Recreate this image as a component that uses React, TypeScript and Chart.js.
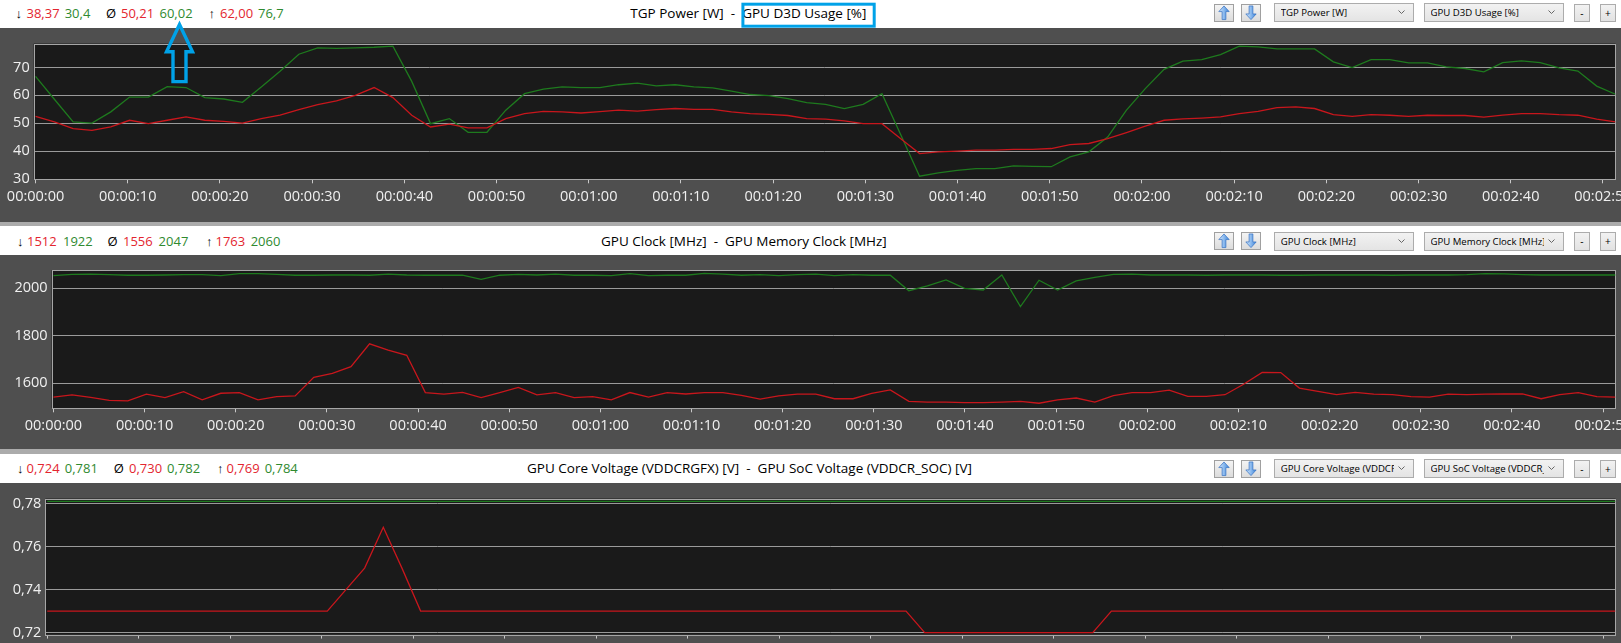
import React, { useEffect, useRef } from 'react';
import { Chart, registerables } from 'chart.js';

Chart.register(...registerables);

// ---------------- data ----------------
const SAMPLE_INTERVAL_S = 2.04;
const X_MIN = -0.2;
const X_MAX = 171.36;
const xTickSeconds = [0, 10, 20, 30, 40, 50, 60, 70, 80, 90, 100, 110, 120, 130, 140, 150, 160, 170];

const tgpPower = [
  52.5, 50.5, 48.1, 47.5, 48.7, 51.1, 49.9, 51.1, 52.3, 51.1,
  50.7, 50.1, 51.7, 52.9, 54.9, 56.7, 58.0, 60.0, 62.8, 59.2,
  52.9, 48.7, 49.7, 48.4, 48.4, 51.7, 53.5, 54.3, 54.1, 53.7,
  54.2, 54.7, 54.4, 54.9, 55.3, 55.0, 55.0, 54.1, 53.5, 53.2,
  52.8, 51.7, 51.5, 50.9, 49.9, 49.9, 44.5, 39.2, 39.8, 40.1,
  40.4, 40.4, 40.7, 40.7, 41.0, 42.4, 42.8, 44.5, 46.7, 49.0,
  51.1, 51.6, 51.9, 52.3, 53.5, 54.3, 55.6, 55.9, 55.3, 53.1,
  52.5, 53.1, 52.9, 52.5, 52.9, 52.8, 52.8, 52.2, 52.9, 53.5,
  53.5, 53.1, 52.9, 51.5, 50.5,
];
const d3dUsage = [
  66.8, 58.6, 50.5, 50.1, 54.1, 59.4, 59.4, 63.1, 62.8, 59.2,
  58.7, 57.5, 63.0, 68.6, 74.7, 77.0, 76.8, 77.0, 77.2, 77.6,
  65.0, 49.9, 51.7, 46.8, 46.8, 54.7, 60.6, 62.2, 63.0, 62.8,
  62.8, 63.8, 64.4, 63.4, 63.8, 63.0, 62.7, 61.5, 60.3, 59.9,
  58.8, 57.4, 56.8, 55.3, 56.8, 60.6, 45.9, 31.1, 32.3, 33.2,
  33.8, 33.8, 34.8, 34.6, 34.5, 38.0, 39.8, 45.1, 54.7, 62.4,
  69.3, 72.2, 72.8, 74.6, 77.6, 77.3, 76.6, 76.6, 76.6, 72.0,
  69.9, 72.8, 72.8, 71.6, 71.6, 70.2, 69.6, 68.4, 71.7, 72.3,
  71.7, 69.8, 68.7, 63.3, 60.4,
];
const gpuClock = [
  1542, 1551, 1541, 1528, 1526, 1554, 1540, 1565, 1530, 1558,
  1561, 1530, 1544, 1547, 1625, 1642, 1670, 1766, 1740, 1718,
  1561, 1554, 1562, 1540, 1561, 1583, 1551, 1561, 1540, 1544,
  1530, 1561, 1542, 1561, 1555, 1561, 1561, 1549, 1533, 1547,
  1554, 1554, 1535, 1535, 1558, 1572, 1524, 1521, 1521, 1519,
  1519, 1521, 1524, 1516, 1530, 1538, 1521, 1548, 1561, 1561,
  1571, 1545, 1545, 1552, 1596, 1646, 1645, 1580, 1566, 1552,
  1562, 1554, 1552, 1544, 1542, 1554, 1552, 1554, 1555, 1555,
  1535, 1552, 1561, 1544, 1542,
];
const memClock = [
  2053, 2059, 2060, 2058, 2055, 2055, 2056, 2058, 2058, 2053,
  2062, 2062, 2059, 2055, 2055, 2056, 2056, 2055, 2060, 2056,
  2055, 2055, 2055, 2038, 2055, 2059, 2056, 2060, 2055, 2055,
  2053, 2062, 2053, 2055, 2055, 2063, 2060, 2055, 2058, 2053,
  2058, 2060, 2053, 2058, 2055, 2055, 1990, 2010, 2035, 2000,
  1993, 2056, 1923, 2034, 1993, 2031, 2046, 2059, 2060, 2056,
  2056, 2056, 2055, 2056, 2056, 2056, 2055, 2055, 2056, 2056,
  2056, 2056, 2055, 2056, 2056, 2056, 2058, 2062, 2061, 2058,
  2056, 2056, 2056, 2056, 2056,
];
const coreVoltage = [
  0.73, 0.73, 0.73, 0.73, 0.73, 0.73, 0.73, 0.73, 0.73, 0.73,
  0.73, 0.73, 0.73, 0.73, 0.73, 0.73, 0.74, 0.75, 0.769, 0.75,
  0.73, 0.73, 0.73, 0.73, 0.73, 0.73, 0.73, 0.73, 0.73, 0.73,
  0.73, 0.73, 0.73, 0.73, 0.73, 0.73, 0.73, 0.73, 0.73, 0.73,
  0.73, 0.73, 0.73, 0.73, 0.73, 0.73, 0.73, 0.72, 0.72, 0.72,
  0.72, 0.72, 0.72, 0.72, 0.72, 0.72, 0.72, 0.73, 0.73, 0.73,
  0.73, 0.73, 0.73, 0.73, 0.73, 0.73, 0.73, 0.73, 0.73, 0.73,
  0.73, 0.73, 0.73, 0.73, 0.73, 0.73, 0.73, 0.73, 0.73, 0.73,
  0.73, 0.73, 0.73, 0.73, 0.73,
];
const socVoltage = [
  0.781, 0.781, 0.781, 0.781, 0.781, 0.781, 0.781, 0.781, 0.781, 0.781,
  0.781, 0.781, 0.781, 0.781, 0.781, 0.781, 0.781, 0.781, 0.781, 0.781,
  0.781, 0.781, 0.781, 0.781, 0.781, 0.781, 0.781, 0.781, 0.781, 0.781,
  0.781, 0.781, 0.781, 0.781, 0.781, 0.781, 0.781, 0.781, 0.781, 0.781,
  0.781, 0.781, 0.781, 0.781, 0.781, 0.781, 0.781, 0.781, 0.781, 0.781,
  0.781, 0.781, 0.781, 0.781, 0.781, 0.781, 0.781, 0.781, 0.781, 0.781,
  0.781, 0.781, 0.781, 0.781, 0.781, 0.781, 0.781, 0.781, 0.781, 0.781,
  0.781, 0.781, 0.781, 0.781, 0.781, 0.781, 0.781, 0.781, 0.781, 0.781,
  0.781, 0.781, 0.781, 0.781, 0.781,
];

const powerTicks = [30, 40, 50, 60, 70];
const clockTicks = [1600, 1800, 2000];
const voltTicks = [0.72, 0.74, 0.76, 0.78];

const powerStats = [['38,37', '30,4'], ['50,21', '60,02'], ['62,00', '76,7']];
const clockStats = [['1512', '1922'], ['1556', '2047'], ['1763', '2060']];
const voltStats = [['0,724', '0,781'], ['0,730', '0,782'], ['0,769', '0,784']];
const statSymbols = ['↓', 'Ø', '↑'];

const powerNames = ['TGP Power [W]', 'GPU D3D Usage [%]'];
const clockNames = ['GPU Clock [MHz]', 'GPU Memory Clock [MHz]'];
const voltNames = ['GPU Core Voltage (VDDCRGFX) [V]', 'GPU SoC Voltage (VDDCR_SOC) [V]'];

// ---------------- styles ----------------
const FONT = "'Segoe UI', 'Open Sans', 'Noto Sans', sans-serif";
const PANEL_BG = '#4f4f4f';
const PLOT_BG = '#1a1a1a';
const GRID = '#9a9a9a';
const FRAME = '#a6a6a6';
const TICK_MARK = '#c8c8c8';
const TICK_TEXT = '#f0f0f0';
const RED_LINE = '#c8161c';
const GREEN_LINE = '#1e7a1e';
const RED_TEXT = '#e3262f';
const GREEN_TEXT = '#2f8a2f';
const MARK_BLUE = '#00a2e8';
const CANVAS_W = 1660;
const PLOT_RIGHT = 1615.5;

const fmtTime = (s: number) => {
  const h = Math.floor(s / 3600);
  const m = Math.floor((s % 3600) / 60);
  const sec = Math.round(s % 60);
  return [h, m, sec].map((n) => String(n).padStart(2, '0')).join(':');
};

type PanelCfg = {
  names: string[];
  red: number[];
  green: number[];
  yTicks: number[];
  yMin: number;
  yMax: number;
  fmt: (v: number) => string;
  stats: string[][];
  L: {
    canvasTop: number; canvasH: number; plotLeft: number; plotTop: number; plotBottom: number;
    textY: number; ctrlTop: number; titleX: number;
    statX: number[][];
  };
};

const PANELS: PanelCfg[] = [
  {
    names: powerNames, red: tgpPower, green: d3dUsage, yTicks: powerTicks, yMin: 30, yMax: 78.5,
    fmt: (v) => String(v), stats: powerStats,
    L: {
      canvasTop: 27.7, canvasH: 194, plotLeft: 33.7, plotTop: 43.3, plotBottom: 179,
      textY: 14.3, ctrlTop: 3.3, titleX: 630.3,
      statX: [[15.5, 26.5, 64.7], [106, 121, 159.5], [208.5, 220, 258]],
    },
  },
  {
    names: clockNames, red: gpuClock, green: memClock, yTicks: clockTicks, yMin: 1494.7, yMax: 2075.8,
    fmt: (v) => String(v), stats: clockStats,
    L: {
      canvasTop: 255, canvasH: 194, plotLeft: 51.6, plotTop: 270.3, plotBottom: 408.3,
      textY: 242.3, ctrlTop: 231.7, titleX: 601,
      statX: [[17, 27, 63], [107.4, 123, 158.6], [205.9, 215.5, 250.7]],
    },
  },
  {
    names: voltNames, red: coreVoltage, green: socVoltage, yTicks: voltTicks, yMin: 0.71907, yMax: 0.78233,
    fmt: (v) => v.toFixed(2).replace('.', ','), stats: voltStats,
    L: {
      canvasTop: 482.7, canvasH: 200, plotLeft: 45.4, plotTop: 498.3, plotBottom: 634.3,
      textY: 469.3, ctrlTop: 459.3, titleX: 527,
      statX: [[17, 26.5, 64.8], [113.8, 129, 167], [217, 226.5, 264.7]],
    },
  },
];

const framePlugin = {
  id: 'plotFrame',
  beforeDraw(chart: any) {
    const { ctx, chartArea: a } = chart;
    ctx.save();
    ctx.fillStyle = PLOT_BG;
    ctx.fillRect(a.left, a.top, a.right - a.left, a.bottom - a.top);
    ctx.restore();
  },
  beforeDatasetsDraw(chart: any) {
    const { ctx, chartArea: a } = chart;
    ctx.save();
    ctx.strokeStyle = FRAME;
    ctx.lineWidth = 1;
    const l = Math.round(a.left) + 0.5;
    const t = Math.round(a.top) + 0.5;
    const r = Math.round(a.right) - 0.5;
    const b = Math.round(a.bottom) + 0.5;
    ctx.strokeRect(l, t, r - l, b - t);
    ctx.restore();
  },
};

function PanelChart({ cfg }: { cfg: PanelCfg }) {
  const ref = useRef<HTMLCanvasElement>(null);
  const L = cfg.L;
  useEffect(() => {
    const toPts = (arr: number[]) => arr.map((v, i) => ({ x: i * SAMPLE_INTERVAL_S, y: v }));
    const chart = new Chart(ref.current as HTMLCanvasElement, {
      type: 'line',
      data: {
        datasets: [
          { data: toPts(cfg.red), borderColor: RED_LINE, borderWidth: 1.3, pointRadius: 0, tension: 0, fill: false },
          { data: toPts(cfg.green), borderColor: GREEN_LINE, borderWidth: 1.3, pointRadius: 0, tension: 0, fill: false },
        ],
      },
      options: {
        animation: false,
        responsive: false,
        events: [],
        layout: { padding: { left: 0, right: CANVAS_W - PLOT_RIGHT, top: L.plotTop - L.canvasTop, bottom: 0 } },
        plugins: { legend: { display: false }, tooltip: { enabled: false } },
        scales: {
          x: {
            type: 'linear',
            min: X_MIN,
            max: X_MAX,
            afterBuildTicks: (axis: any) => { axis.ticks = xTickSeconds.map((v) => ({ value: v })); },
            afterFit: (axis: any) => { axis.height = L.canvasH - (L.plotBottom - L.canvasTop); },
            ticks: {
              callback: (v: any) => fmtTime(Number(v)),
              color: TICK_TEXT,
              font: { family: FONT, size: 14.5 },
              padding: 5,
              maxRotation: 0,
              minRotation: 0,
              autoSkip: false,
            },
            grid: { drawOnChartArea: false, drawTicks: true, tickLength: 4, color: TICK_MARK, lineWidth: 1 },
            border: { display: false },
          },
          y: {
            type: 'linear',
            min: cfg.yMin,
            max: cfg.yMax,
            afterBuildTicks: (axis: any) => { axis.ticks = cfg.yTicks.map((v) => ({ value: v })); },
            afterFit: (axis: any) => { axis.width = L.plotLeft; },
            ticks: {
              callback: (v: any) => cfg.fmt(Number(v)),
              color: TICK_TEXT,
              font: { family: FONT, size: 14.5 },
              padding: 4,
            },
            grid: { color: GRID, drawTicks: false, lineWidth: 1 },
            border: { display: false },
          },
        },
      } as any,
      plugins: [framePlugin],
    });
    return () => chart.destroy();
  }, []);
  return (
    <canvas
      ref={ref}
      width={CANVAS_W}
      height={L.canvasH}
      style={{ position: 'absolute', left: 0, top: L.canvasTop, width: CANVAS_W, height: L.canvasH, background: PANEL_BG }}
    />
  );
}

function ArrowButton({ x, y, up }: { x: number; y: number; up: boolean }) {
  const id = up ? 'gu' : 'gd';
  const pts = up
    ? '10,1.5 4.5,7.5 8,7.5 8,16 12,16 12,7.5 15.5,7.5'
    : '10,16 4.5,10 8,10 8,1.5 12,1.5 12,10 15.5,10';
  return (
    <div style={{ position: 'absolute', left: x, top: y, width: 20, height: 18, boxSizing: 'border-box', border: '1px solid #a0a0a0', background: 'linear-gradient(#f4f4f4,#dcdcdc)' }}>
      <svg width="18" height="16" viewBox="1 0.5 18 17" style={{ position: 'absolute', left: 0, top: 0 }}>
        <defs>
          <linearGradient id={id} x1="0" y1="0" x2="1" y2="0">
            <stop offset="0" stopColor="#d8ecff" />
            <stop offset="1" stopColor="#3d86dc" />
          </linearGradient>
        </defs>
        <polygon points={pts} fill={`url(#${id})`} stroke="#3a74c4" strokeWidth="0.8" strokeLinejoin="round" />
      </svg>
    </div>
  );
}

function Select({ x, y, label }: { x: number; y: number; label: string }) {
  return (
    <div style={{ position: 'absolute', left: x, top: y, width: 140, height: 19, boxSizing: 'border-box', border: '1px solid #acacac', background: 'linear-gradient(#f2f2f2,#e4e4e4)' }}>
      <div style={{ position: 'absolute', left: 5.5, top: 0, width: 113, height: 17, overflow: 'hidden', whiteSpace: 'nowrap', font: `9.6px ${FONT}`, lineHeight: '17px', color: '#000' }}>{label}</div>
      <svg width="7" height="5" style={{ position: 'absolute', right: 8, top: 6 }}>
        <polyline points="0.5,0.5 3.5,3.5 6.5,0.5" fill="none" stroke="#666" strokeWidth="1" />
      </svg>
    </div>
  );
}

function SmallButton({ x, y, text }: { x: number; y: number; text: string }) {
  return (
    <div style={{ position: 'absolute', left: x, top: y, width: 15.5, height: 18.3, boxSizing: 'border-box', border: '1px solid #acacac', background: 'linear-gradient(#f2f2f2,#e2e2e2)', font: `10px ${FONT}`, lineHeight: '17px', textAlign: 'center', color: '#000' }}>{text}</div>
  );
}

function Header({ cfg }: { cfg: PanelCfg }) {
  const L = cfg.L;
  const line = (x: number, color: string, text: string, size = 13) => (
    <div style={{ position: 'absolute', left: x, top: L.textY - 10, height: 20, lineHeight: '20px', font: `${size}px ${FONT}`, color, whiteSpace: 'pre' }}>{text}</div>
  );
  return (
    <>
      {cfg.stats.map((pair, k) => (
        <React.Fragment key={k}>
          {line(L.statX[k][0], '#000', statSymbols[k])}
          {line(L.statX[k][1], RED_TEXT, pair[0])}
          {line(L.statX[k][2], GREEN_TEXT, pair[1])}
        </React.Fragment>
      ))}
      {line(L.titleX, '#000', `${cfg.names[0]}  -  ${cfg.names[1]}`, 13.5)}
      <ArrowButton x={1214} y={L.ctrlTop + 0.7} up={true} />
      <ArrowButton x={1241.3} y={L.ctrlTop + 0.7} up={false} />
      <Select x={1274.3} y={L.ctrlTop} label={cfg.names[0]} />
      <Select x={1424} y={L.ctrlTop} label={cfg.names[1]} />
      <SmallButton x={1574} y={L.ctrlTop + 0.7} text="-" />
      <SmallButton x={1600} y={L.ctrlTop + 0.7} text="+" />
    </>
  );
}

export default function App() {
  useEffect(() => {
    document.body.style.margin = '0';
    document.body.style.overflow = 'hidden';
  }, []);
  return (
    <div style={{ position: 'fixed', left: 0, top: 0, width: 1621, height: 643, overflow: 'hidden', background: '#fff', fontFamily: FONT }}>
      {PANELS.map((p, i) => (
        <PanelChart key={'c' + i} cfg={p} />
      ))}
      <div style={{ position: 'absolute', left: 0, top: 221.7, width: 1621, height: 4.3, background: '#ababab' }} />
      <div style={{ position: 'absolute', left: 0, top: 449.3, width: 1621, height: 4.7, background: '#ababab' }} />
      {PANELS.map((p, i) => (
        <Header key={'h' + i} cfg={p} />
      ))}
      <svg width="1621" height="643" style={{ position: 'absolute', left: 0, top: 0, pointerEvents: 'none' }}>
        <rect x="742.9" y="4.2" width="131.3" height="22" fill="none" stroke={MARK_BLUE} strokeWidth="3" />
        <polygon
          points="179.5,24.5 166.5,51.8 173,51.8 173,81.6 186,81.6 186,51.8 192.5,51.8"
          fill="none"
          stroke={MARK_BLUE}
          strokeWidth="3.4"
          strokeLinejoin="miter"
        />
      </svg>
    </div>
  );
}
